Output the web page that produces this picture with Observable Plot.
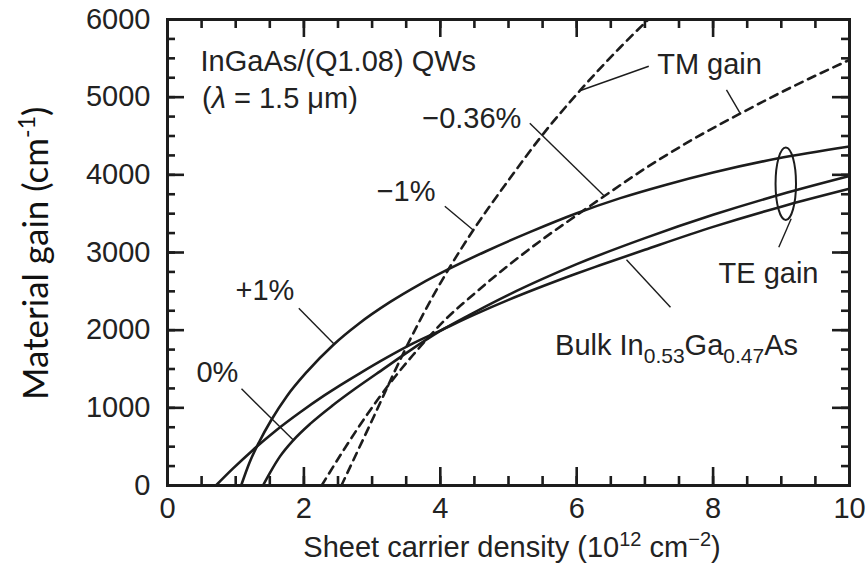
<!DOCTYPE html>
<html>
<head>
<meta charset="utf-8">
<script src="https://cdn.jsdelivr.net/npm/d3@7"></script>
<script src="https://cdn.jsdelivr.net/npm/@observablehq/plot@0.6"></script>
<style>
  html, body { margin: 0; padding: 0; background: #fff; }
</style>
</head>
<body>
<div id="chart"></div>
<script>
// ---- Data ----
// Sheet carrier density (10^12 cm^-2) and material gain (cm^-1)
const xPlus1 = [1.08, 1.2, 1.35, 1.52, 1.75, 2.04, 2.43, 2.8, 3.26, 3.7, 4.12, 4.68, 5.32, 6.0, 6.64, 7.3, 8.0, 8.94, 10];
const gPlus1 = [0, 290, 570, 840, 1150, 1460, 1810, 2080, 2360, 2590, 2785, 3020, 3265, 3505, 3700, 3870, 4030, 4210, 4365];

const xZero = [1.40, 1.5, 1.65, 1.84, 2.1, 2.42, 2.75, 3.06, 3.5, 4.0, 4.5, 5.0, 5.5, 6.0, 7.0, 8.0, 9.0, 10];
const gZero = [0, 160, 375, 579, 800, 1030, 1245, 1435, 1705, 1990, 2230, 2455, 2660, 2850, 3185, 3485, 3750, 3985];

const xBulk = [0.71, 0.95, 1.25, 1.6, 1.94, 2.3, 2.53, 2.82, 3.2, 3.6, 4.0, 4.5, 5.0, 5.5, 6.0, 6.34, 7.0, 8.0, 9.0, 10];
const gBulk = [0, 210, 455, 715, 940, 1160, 1290, 1445, 1640, 1830, 1995, 2200, 2390, 2565, 2730, 2835, 3035, 3330, 3590, 3820];

const xTM1 = [2.55, 3.0, 3.43, 3.7, 4.11, 4.48, 5.0, 5.51, 6.05, 6.64, 7.05];
const gTM1 = [0, 840, 1652, 2124, 2768, 3283, 3930, 4528, 5086, 5643, 6000];

const xTM036 = [2.26, 2.6, 2.94, 3.3, 3.6, 4.09, 4.5, 5.0, 5.5, 6.0, 6.37, 7.0, 7.7, 8.4, 9.2, 10];
const gTM036 = [0, 480, 930, 1360, 1680, 2150, 2470, 2835, 3170, 3480, 3705, 4080, 4455, 4790, 5150, 5480];

// Tick values / labels
const xTickMajor = [0, 2, 4, 6, 8, 10];
const xTickMinor = [0, 0.5, 1, 1.5, 2, 2.5, 3, 3.5, 4, 4.5, 5, 5.5, 6, 6.5, 7, 7.5, 8, 8.5, 9, 9.5, 10];
const yTickMajor = [0, 1000, 2000, 3000, 4000, 5000, 6000];
const yTickMinor = [0, 250, 500, 750, 1000, 1250, 1500, 1750, 2000, 2250, 2500, 2750, 3000, 3250, 3500, 3750, 4000, 4250, 4500, 4750, 5000, 5250, 5500, 5750, 6000];

// Annotation labels (anchored in data coordinates)
const labelText = ["InGaAs/(Q1.08) QWs", "\u22120.36%", "\u22121%", "+1%", "0%", "TM gain", "TE gain"];
const labelX    = [0.484, 3.735, 3.93, 0.997, 0.425, 7.18, 8.08];
const labelY    = [5343, 4601, 3669, 2382, 1330, 5292, 2601];
const labelAnchor = ["start", "start", "end", "start", "start", "start", "start"];

// Leader lines (data coordinates)
const leadX1 = [7.057, 8.196, 5.312, 4.066, 1.925, 1.085, 6.73, 9.145];
const leadY1 = [5398, 5095, 4665, 3596, 2283, 1245, 2906, 3434];
const leadX2 = [6.056, 8.402, 6.397, 4.491, 2.438, 1.852, 7.375, 8.963];
const leadY2 = [5086, 4786, 3734, 3283, 1825, 579, 2296, 3068];

// TE ellipse (data coordinates)
const ellipseCenter = [9.073, 3879];
const ellipseRadius = [0.15, 467];

// ---- Build tables ----
const series = [
  {name: "+1%", xs: xPlus1, ys: gPlus1, dashed: false},
  {name: "0%", xs: xZero, ys: gZero, dashed: false},
  {name: "Bulk", xs: xBulk, ys: gBulk, dashed: false},
  {name: "TM -1%", xs: xTM1, ys: gTM1, dashed: true},
  {name: "TM -0.36%", xs: xTM036, ys: gTM036, dashed: true}
];
const rows = series.flatMap(s => s.xs.map((x, i) => ({series: s.name, x, y: s.ys[i], dashed: s.dashed})));
const labels = labelText.map((t, i) => ({t, x: labelX[i], y: labelY[i], a: labelAnchor[i]}));
const leaders = leadX1.map((x1, i) => ({x1, y1: leadY1[i], x2: leadX2[i], y2: leadY2[i]}));

// ---- Layout ----
const W = 868, H = 570;
const mT = 19, mR = 19, mB = 85, mL = 167;
const PW = W - mL - mR, PH = H - mT - mB;
const ink = "#1c1c1c";
const font = "'Liberation Sans', Arial, Helvetica, sans-serif";

const plot = Plot.plot({
  width: W, height: H,
  marginTop: mT, marginRight: mR, marginBottom: mB, marginLeft: mL,
  style: {fontFamily: font, fontSize: "29px", color: ink, background: "#fff", overflow: "visible"},
  x: {domain: [0, 10]},
  y: {domain: [0, 6000]},
  marks: [
    Plot.axisX(xTickMajor, {tickSize: 0, tickPadding: 12, tickFormat: d => `${d}`, label: null, fill: "#222"}),
    Plot.axisY(yTickMajor, {tickSize: 0, tickPadding: 17, tickFormat: d => `${d}`, label: null, fill: "#222"}),
    // inward ticks on all four sides
    Plot.tickX(xTickMinor, {x: d => d, insetTop: PH - 9, stroke: ink, strokeWidth: 2.6}),
    Plot.tickX(xTickMajor, {x: d => d, insetTop: PH - 18, stroke: ink, strokeWidth: 2.6}),
    Plot.tickX(xTickMinor, {x: d => d, insetBottom: PH - 9, stroke: ink, strokeWidth: 2.6}),
    Plot.tickX(xTickMajor, {x: d => d, insetBottom: PH - 18, stroke: ink, strokeWidth: 2.6}),
    Plot.tickY(yTickMinor, {y: d => d, insetRight: PW - 8, stroke: ink, strokeWidth: 2.6}),
    Plot.tickY(yTickMajor, {y: d => d, insetRight: PW - 17, stroke: ink, strokeWidth: 2.6}),
    Plot.tickY(yTickMinor, {y: d => d, insetLeft: PW - 8, stroke: ink, strokeWidth: 2.6}),
    Plot.tickY(yTickMajor, {y: d => d, insetLeft: PW - 17, stroke: ink, strokeWidth: 2.6}),
    // curves
    Plot.line(rows.filter(d => !d.dashed), {x: "x", y: "y", z: "series", stroke: ink, strokeWidth: 2.6, curve: "monotone-x"}),
    Plot.line(rows.filter(d => d.dashed), {x: "x", y: "y", z: "series", stroke: ink, strokeWidth: 2.6, strokeDasharray: "8,6", curve: "monotone-x"}),
    // leader lines
    Plot.link(leaders, {x1: "x1", y1: "y1", x2: "x2", y2: "y2", stroke: ink, strokeWidth: 1.4}),
    // labels
    Plot.text(labels, {x: "x", y: "y", text: "t", textAnchor: "start", lineAnchor: "bottom", fill: "#222", fontSize: 29}),
    Plot.frame({stroke: ink, strokeWidth: 3})
  ]
});

document.getElementById("chart").appendChild(plot);

const svg = d3.select(plot);
const sx = plot.scale("x").apply, sy = plot.scale("y").apply;

// per-label anchors
svg.selectAll("g[aria-label='text'] text").each(function(_, i) {
  d3.select(this).attr("text-anchor", labels[i].a);
});

// TE ellipse
svg.append("ellipse")
  .attr("cx", sx(ellipseCenter[0])).attr("cy", sy(ellipseCenter[1]))
  .attr("rx", sx(ellipseCenter[0] + ellipseRadius[0]) - sx(ellipseCenter[0]))
  .attr("ry", sy(ellipseCenter[1] - ellipseRadius[1]) - sy(ellipseCenter[1]))
  .attr("fill", "none").attr("stroke", ink).attr("stroke-width", 2);

// (λ = 1.5 μm)
const lam = svg.append("text").attr("x", sx(0.513)).attr("y", sy(4854))
  .attr("text-anchor", "start")
  .attr("font-family", font).attr("font-size", 29).attr("fill", "#222");
lam.append("tspan").text("(");
lam.append("tspan").attr("font-style", "italic").text("\u03BB");
lam.append("tspan").text(" = 1.5 \u03BCm)");

// Bulk In0.53Ga0.47As
const bulk = svg.append("text").attr("x", sx(5.69)).attr("y", sy(1674))
  .attr("text-anchor", "start")
  .attr("font-family", font).attr("font-size", 29).attr("fill", "#222");
bulk.append("tspan").text("Bulk In");
bulk.append("tspan").attr("font-size", 21).attr("dy", 8).text("0.53");
bulk.append("tspan").attr("dy", -8).text("Ga");
bulk.append("tspan").attr("font-size", 21).attr("dy", 8).text("0.47");
bulk.append("tspan").attr("dy", -8).text("As");

// x-axis title
const xt = svg.append("text").attr("x", mL + PW / 2 + 4).attr("y", 557)
  .attr("text-anchor", "middle").attr("font-family", font).attr("font-size", 29).attr("fill", "#222");
xt.append("tspan").text("Sheet carrier density (10");
xt.append("tspan").attr("font-size", 20).attr("dy", -11).text("12");
xt.append("tspan").attr("dy", 11).text(" cm");
xt.append("tspan").attr("font-size", 20).attr("dy", -11).text("\u22122");
xt.append("tspan").attr("dy", 11).text(")");

// y-axis title (starts at the bottom and reads upward)
const yt = svg.append("text").attr("transform", "translate(48,400) rotate(-90)")
  .attr("text-anchor", "start").attr("font-family", "Lato, 'Open Sans', sans-serif")
  .attr("font-size", 35).attr("fill", "#111");
yt.append("tspan").text("Material gain (cm");
yt.append("tspan").attr("font-size", 23).attr("dy", -13).text("-1");
yt.append("tspan").attr("dy", 13).text(")");
</script>
</body>
</html>
